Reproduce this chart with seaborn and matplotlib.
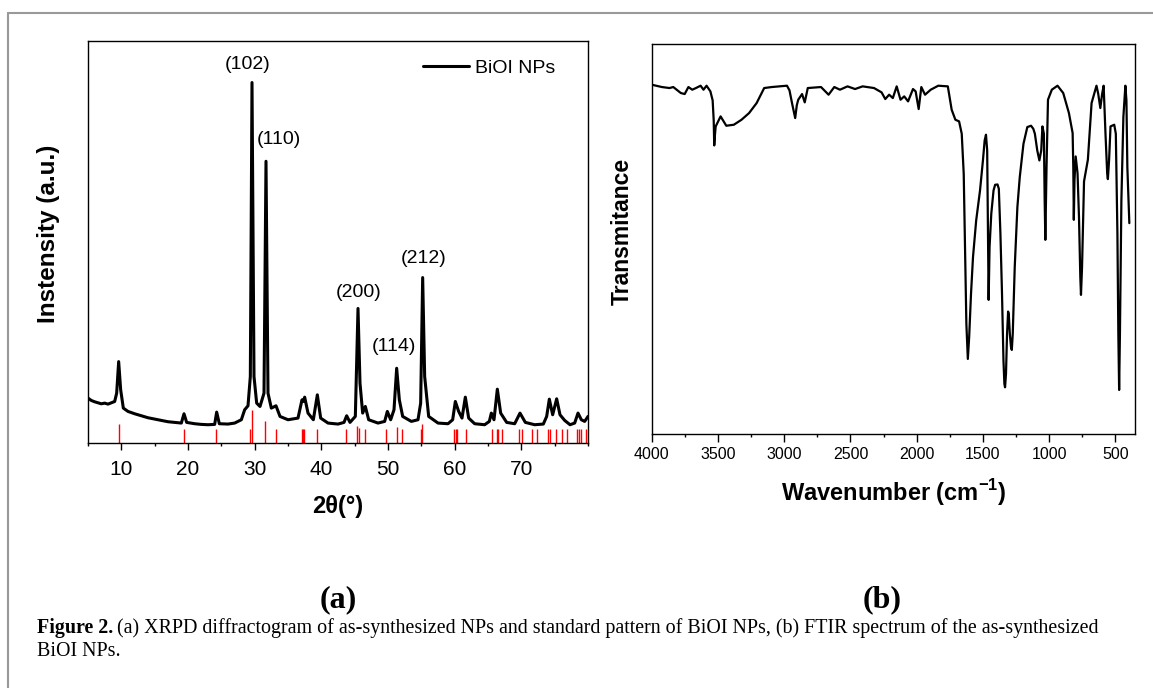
import matplotlib
matplotlib.use("Agg")
import matplotlib.pyplot as plt
import seaborn as sns
import numpy as np
from matplotlib.lines import Line2D

# XRD pattern (2theta in degrees, intensity in a.u.)
xrd_2theta = [5.0, 5.5, 6.0, 6.5, 7.0, 7.5, 8.0, 8.5, 9.0, 9.3, 9.6, 9.9, 10.3, 11.0, 12.0, 13.0,
              14.0, 15.0, 16.0, 17.0, 18.0, 19.0, 19.4, 19.8, 21.0, 22.0, 23.0, 24.0, 24.3, 24.7,
              26.0, 27.0, 28.0, 28.5, 29.0, 29.35, 29.6, 29.9, 30.3, 30.8, 31.4, 31.7, 32.0, 32.5,
              33.2, 33.8, 35.0, 36.5, 37.1, 37.3, 37.5, 38.0, 38.8, 39.4, 39.9, 41.0, 42.5, 43.4,
              43.8, 44.3, 45.1, 45.5, 45.8, 46.2, 46.6, 47.1, 48.5, 49.5, 49.9, 50.4, 50.9, 51.3,
              51.7, 52.2, 53.5, 54.5, 54.9, 55.2, 55.5, 56.1, 57.5, 59.0, 59.7, 60.1, 60.6, 61.1,
              61.6, 62.1, 63.0, 64.5, 65.2, 65.5, 65.9, 66.4, 66.9, 67.8, 69.0, 69.8, 70.6, 72.0,
              73.3, 73.8, 74.2, 74.7, 75.3, 75.8, 76.5, 77.3, 78.0, 78.5, 79.0, 79.5, 80.0]
xrd_counts = [135, 128, 124, 121, 118, 120, 117, 121, 125, 150, 245, 160, 105, 95, 88, 82,
              76, 72, 68, 64, 62, 60, 88, 62, 58, 56, 55, 56, 93, 58,
              57, 60, 70, 100, 112, 200, 1085, 200, 120, 110, 150, 848, 150, 105,
              112, 80, 70, 75, 130, 125, 138, 90, 70, 145, 75, 60, 57, 62,
              82, 62, 80, 405, 180, 90, 110, 70, 60, 65, 95, 70, 100, 225,
              130, 80, 65, 70, 120, 498, 200, 80, 60, 58, 70, 125, 95, 75,
              138, 75, 58, 55, 65, 90, 70, 162, 90, 62, 58, 90, 62, 55,
              57, 80, 132, 85, 133, 85, 68, 55, 60, 90, 70, 65, 80]

# standard BiOI reference pattern (stick positions and heights)
ref_2theta = [9.65, 19.35, 24.2, 29.3, 29.65, 31.6, 33.15, 37.05, 37.25, 37.4, 39.3, 43.65,
              45.4, 45.6, 46.55, 49.75, 51.35, 52.15, 54.9, 55.1, 59.9, 60.15, 60.4, 61.65,
              65.55, 66.3, 66.45, 67.05, 69.6, 70.1, 71.6, 72.3, 74.05, 74.25, 75.2, 76.15,
              76.8, 78.4, 78.65, 78.95, 79.75]
ref_height = [57, 42, 42, 42, 100, 65, 42, 42, 42, 42, 42, 42,
              50, 45, 42, 42, 48, 42, 42, 58, 42, 42, 42, 42,
              42, 42, 42, 42, 42, 42, 42, 42, 42, 42, 42, 42,
              42, 42, 42, 42, 42]

# Miller indices labels
hkl_labels = ["(102)", "(110)", "(200)", "(114)", "(212)"]
hkl_x = [29.0, 33.6, 45.6, 50.9, 55.3]
hkl_y = [1140, 915, 453, 290, 555]

# FTIR spectrum (wavenumber in cm-1, transmittance in a.u.)
ftir_wn = [4000, 3923, 3866, 3837, 3780, 3751, 3723, 3694, 3666, 3631, 3609, 3586, 3557, 3540,
           3532, 3528, 3522, 3517, 3480, 3437, 3380, 3322, 3265, 3208, 3151, 3094, 2979, 2960,
           2940, 2917, 2905, 2894, 2865, 2845, 2822, 2722, 2665, 2622, 2579, 2522, 2465, 2408,
           2322, 2265, 2237, 2208, 2180, 2151, 2122, 2094, 2065, 2028, 2008, 1985, 1965, 1937,
           1894, 1837, 1765, 1736, 1708, 1680, 1660, 1645, 1635, 1625, 1614, 1604, 1590, 1575,
           1551, 1522, 1500, 1487, 1477, 1468, 1462, 1457, 1450, 1437, 1420, 1408, 1390, 1380,
           1368, 1356, 1345, 1338, 1333, 1326, 1318, 1310, 1305, 1297, 1288, 1282, 1275, 1260,
           1240, 1222, 1194, 1165, 1137, 1120, 1108, 1090, 1074, 1060, 1051, 1040, 1034, 1029,
           1020, 1009, 980, 937, 894, 851, 823, 818, 814, 809, 800, 786, 775, 765,
           760, 752, 737, 708, 680, 643, 630, 614, 600, 589, 575, 562, 557, 548,
           537, 509, 497, 485, 478, 472, 466, 455, 440, 425, 417, 410, 395]
ftir_t = [1047, 1040, 1037, 1040, 1022, 1019, 1040, 1032, 1037, 1044, 1032, 1044, 1027, 1000,
          940, 865, 900, 922, 952, 924, 927, 942, 962, 992, 1037, 1040, 1044, 1030,
          990, 947, 985, 1002, 1019, 994, 1037, 1040, 1017, 1040, 1032, 1042, 1034, 1042,
          1037, 1024, 1004, 1017, 1007, 1042, 1002, 1012, 997, 1034, 1027, 974, 1040, 1017,
          1032, 1044, 1042, 972, 942, 937, 900, 780, 560, 330, 225, 290, 420, 530,
          640, 730, 820, 880, 897, 850, 600, 402, 560, 660, 730, 747, 748, 735,
          600, 420, 220, 150, 140, 180, 300, 367, 360, 300, 260, 252, 300, 500,
          680, 770, 870, 920, 924, 915, 900, 850, 820, 850, 922, 900, 700, 582,
          800, 1002, 1032, 1044, 1022, 962, 902, 800, 642, 760, 832, 782, 650, 470,
          417, 500, 757, 822, 992, 1044, 1020, 977, 1020, 1044, 900, 780, 764, 820,
          922, 927, 900, 600, 300, 132, 300, 700, 950, 1044, 1000, 800, 632]

W, H = 1153, 688
sns.set_theme(style="ticks")
plt.rcParams["font.family"] = ["Liberation Sans", "DejaVu Sans"]
plt.rcParams["mathtext.fontset"] = "custom"
plt.rcParams["mathtext.rm"] = "Liberation Sans"
plt.rcParams["mathtext.bf"] = "Liberation Sans:bold"
plt.rcParams["text.color"] = "black"
plt.rcParams["axes.labelcolor"] = "black"
plt.rcParams["xtick.color"] = "black"
plt.rcParams["ytick.color"] = "black"

fig = plt.figure(figsize=(W / 100, H / 100), dpi=100)
fig.patch.set_facecolor("white")

# gray frame around the figure panel (top and left edges)
fig.add_artist(Line2D([8 / W, 8 / W], [0, 1 - 13 / H], color="#999999", lw=1.5))
fig.add_artist(Line2D([8 / W, 1], [1 - 13 / H, 1 - 13 / H], color="#999999", lw=1.5))

# ---------- (a) XRD ----------
ax1 = fig.add_axes([88 / W, 1 - 443 / H, 500 / W, 402 / H])
ax1.vlines(ref_2theta, 0, ref_height, color="red", lw=1.0)
sns.lineplot(x=xrd_2theta, y=xrd_counts, ax=ax1, color="black", lw=2.2,
             sort=False, estimator=None, label="BiOI NPs")
for lab, lx, ly in zip(hkl_labels, hkl_x, hkl_y):
    ax1.text(lx, ly, lab, ha="center", va="center", fontsize=14)
ax1.set_xlim(5, 80)
ax1.set_ylim(0, 1210)
ax1.set_xticks([10, 20, 30, 40, 50, 60, 70])
ax1.set_xticks(np.arange(5, 81, 5), minor=True)
ax1.set_yticks([])
ax1.tick_params(axis="x", which="major", length=5, width=1, labelsize=15, pad=7, direction="out")
ax1.tick_params(axis="x", which="minor", length=2.5, width=1, direction="out")
ax1.set_xlabel("2θ(°)", fontsize=17, fontweight="bold")
ax1.xaxis.set_label_coords(0.5, -0.13)
ax1.set_ylabel("Instensity (a.u.)", fontsize=17.5, fontweight="bold")
ax1.yaxis.set_label_coords(-0.056, 0.52)
ax1.legend(loc="upper right", bbox_to_anchor=(0.935, 0.955), frameon=False, fontsize=14,
           handlelength=2.4, handletextpad=0.3, borderaxespad=0, borderpad=0)
for s in ax1.spines.values():
    s.set_linewidth(1.0)
    s.set_color("black")

# ---------- (b) FTIR ----------
ax2 = fig.add_axes([651.7 / W, 1 - 434 / H, 483.6 / W, 390 / H])
sns.lineplot(x=ftir_wn, y=ftir_t, ax=ax2, color="black", lw=1.6,
             sort=False, estimator=None)
ax2.set_xlim(4000, 350)
ax2.set_ylim(0, 1169)
ax2.set_xticks([4000, 3500, 3000, 2500, 2000, 1500, 1000, 500])
ax2.set_xticks(np.arange(3750, 300, -500), minor=True)
ax2.set_yticks([])
ax2.tick_params(axis="x", which="major", length=5.5, width=1, labelsize=11.5, pad=4, direction="out")
ax2.tick_params(axis="x", which="minor", length=2.5, width=1, direction="out")
ax2.set_xlabel(r"Wavenumber (cm$^{\mathbf{-1}}$)", fontsize=17, fontweight="bold")
ax2.xaxis.set_label_coords(0.5, -0.11)
ax2.set_ylabel("Transmitance", fontsize=16.5, fontweight="bold")
ax2.yaxis.set_label_coords(-0.037, 0.52)
for s in ax2.spines.values():
    s.set_linewidth(1.0)
    s.set_color("black")

# panel letters
fig.text(338 / W, 1 - 600 / H, "(a)", ha="center", va="center", fontsize=23,
         fontweight="bold", family="Liberation Serif")
fig.text(882 / W, 1 - 600 / H, "(b)", ha="center", va="center", fontsize=23,
         fontweight="bold", family="Liberation Serif")

# caption
cap_y1 = 1 - 628 / H
cap_y2 = 1 - 651 / H
t_bold = fig.text(37 / W, cap_y1, "Figure 2.", ha="left", va="center", fontsize=14.4,
                  fontweight="bold", family="Liberation Serif")
fig.canvas.draw()
bb = t_bold.get_window_extent()
fig.text((bb.x1 + 4) / W, cap_y1,
         "(a) XRPD diffractogram of as-synthesized NPs and standard pattern of BiOI NPs, "
         "(b) FTIR spectrum of the as-synthesized",
         ha="left", va="center", fontsize=14.4, family="Liberation Serif")
fig.text(37 / W, cap_y2, "BiOI NPs.", ha="left", va="center", fontsize=14.4,
         family="Liberation Serif")

fig.savefig("out.png", dpi=100)
